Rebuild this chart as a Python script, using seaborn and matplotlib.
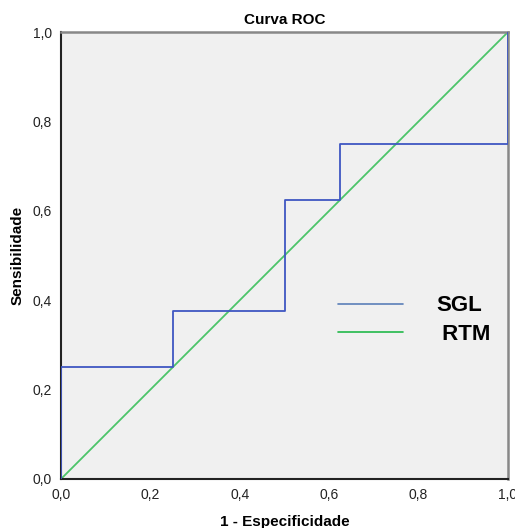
import matplotlib
matplotlib.use("Agg")
import matplotlib.pyplot as plt
import seaborn as sns
import pandas as pd
from matplotlib.lines import Line2D

# Data
fpr_sgl = [0.0, 0.0, 0.25, 0.25, 0.5, 0.5, 0.625, 0.625, 1.0, 1.0]
tpr_sgl = [0.0, 0.25, 0.25, 0.375, 0.375, 0.625, 0.625, 0.75, 0.75, 1.0]
fpr_rtm = [0.0, 1.0]
tpr_rtm = [0.0, 1.0]
ticks = [0.0, 0.2, 0.4, 0.6, 0.8, 1.0]
tick_labels = ["0,0", "0,2", "0,4", "0,6", "0,8", "1,0"]
series_names = ["SGL", " RTM"]

sns.set_style("white")
plt.rcParams["font.family"] = ["Liberation Sans", "DejaVu Sans"]
plt.rcParams["text.color"] = "black"

fig = plt.figure(figsize=(5.15, 5.28), dpi=100)
ax = fig.add_axes([61/515, 1-479/528, (508-61)/515, (479-32)/528])
ax.set_facecolor("#f0f0f0")

df_sgl = pd.DataFrame({"x": fpr_sgl, "y": tpr_sgl})
df_rtm = pd.DataFrame({"x": fpr_rtm, "y": tpr_rtm})

blue = "#3f57c2"
green = "#4cc46a"
sns.lineplot(data=df_sgl, x="x", y="y", sort=False, estimator=None, color=blue, lw=1.3, ax=ax, zorder=3)
sns.lineplot(data=df_rtm, x="x", y="y", sort=False, estimator=None, color=green, lw=1.3, ax=ax, zorder=2)

ax.set_xlim(0, 1)
ax.set_ylim(0, 1)
ax.set_xticks(ticks)
ax.set_yticks(ticks)
ax.set_xticklabels(tick_labels, fontsize=10, color="#222222")
ax.set_yticklabels(tick_labels, fontsize=10, color="#222222")
ax.tick_params(axis="both", direction="out", length=5, width=1.2, color="#333333", pad=1.5)

for side in ["left", "bottom"]:
    ax.spines[side].set_color("#222222")
    ax.spines[side].set_linewidth(1.5)
for side in ["top", "right"]:
    ax.spines[side].set_color("#888888")
    ax.spines[side].set_linewidth(1.8)

ax.set_title("Curva ROC", fontsize=11, fontweight="bold", pad=6, color="black")
ax.set_xlabel("1 - Especificidade", fontsize=11, fontweight="bold", labelpad=9, color="black")
ax.set_ylabel("Sensibilidade", fontsize=11, fontweight="bold", labelpad=6, color="black")

handles = [Line2D([], [], color="#5b7fb8", lw=1.2), Line2D([], [], color="#22b84a", lw=1.2)]
leg = ax.legend(handles, series_names, loc="center left", bbox_to_anchor=(0.6, 0.355),
                frameon=False, prop={"weight": "bold", "size": 16},
                handlelength=2.9, handletextpad=1.5, labelspacing=0.35, borderaxespad=0)
for t in leg.get_texts():
    t.set_color("black")

fig.savefig("out.png", dpi=100)
